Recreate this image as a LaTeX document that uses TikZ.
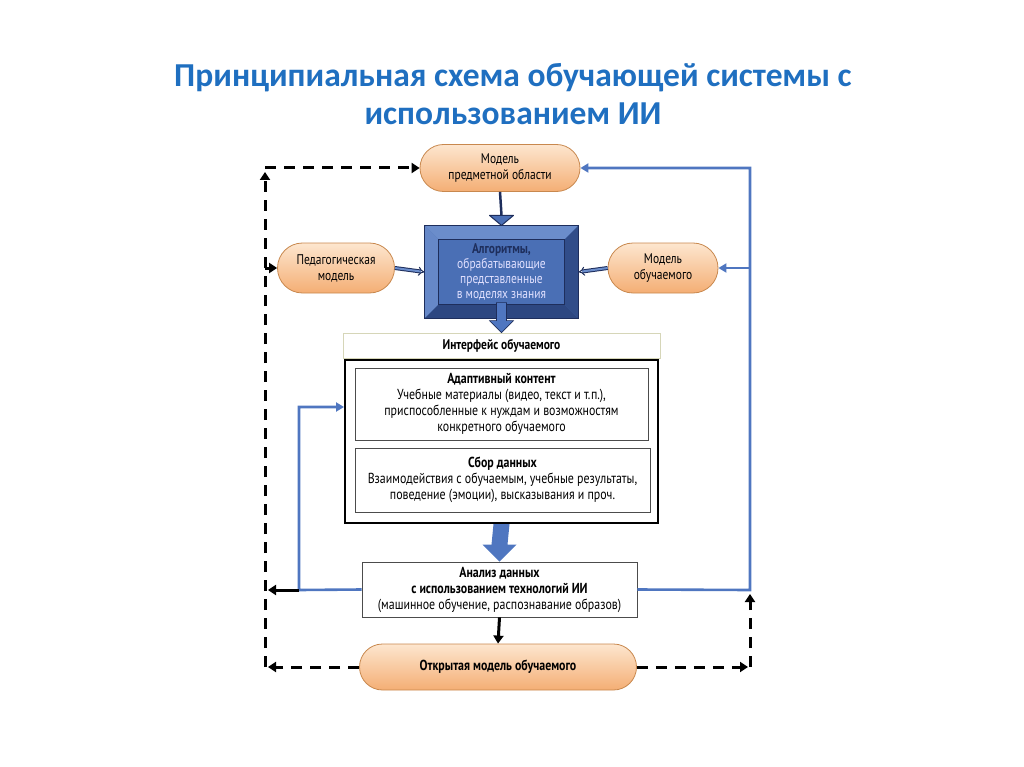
\documentclass[tikz,border=0pt]{standalone}
\usepackage{fontspec}
\setmainfont{PT Sans}
\newfontfamily\cf[FakeStretch=0.82]{PT Sans}
\newfontfamily\tf{Carlito}
\usetikzlibrary{arrows.meta,calc,shapes.misc}
\definecolor{ttl}{HTML}{1F6FC0}
\definecolor{blu}{HTML}{4F76C0}
\definecolor{navy}{HTML}{1E2E5C}
\definecolor{pl}{HTML}{FDE6CF}
\definecolor{pd}{HTML}{F4AE74}
\definecolor{pb}{HTML}{C8884E}
\definecolor{bmid}{HTML}{4A6FB5}
\definecolor{blite}{HTML}{6B8DCB}
\definecolor{bdark}{HTML}{2D4781}
\definecolor{hdr}{HTML}{D6D6B8}
\begin{document}
\begin{tikzpicture}[x=1pt,y=-1pt,
  pill/.style={rounded rectangle, draw=pb, line width=0.8pt, top color=pl, bottom color=pd, align=center, font=\cf\fontsize{14}{16}\selectfont, inner sep=0pt},
  boxA/.style={draw=black!70, line width=0.8pt, fill=white, align=center, font=\cf\fontsize{14.5}{16}\selectfont, inner sep=0pt},
  bline/.style={blu, line width=2.6pt},
  dline/.style={black, line width=3pt, dash pattern=on 11pt off 8pt},
]
\useasboundingbox (0,0) rectangle (1024,767);
% title
\node[font=\tf\bfseries\fontsize{33.5}{38}\selectfont, text=ttl, align=center] (title) at (513,94)
 {Принципиальная схема обучающей системы с\\использованием ИИ};

% nodes
\node[pill, minimum width=160pt, minimum height=47pt] (domain) at (500,168) {Модель\\предметной области};
\node[pill, minimum width=117pt, minimum height=50pt] (ped) at (336,268) {Педагогическая\\модель};
\node[pill, minimum width=110pt, minimum height=50pt] (learner) at (663,268) {Модель\\обучаемого};
\node[pill, minimum width=277pt, minimum height=46pt, font=\cf\bfseries\fontsize{14.5}{16}\selectfont] (open) at (498,667) {Открытая модель обучаемого};

% algorithm box
\node[draw=navy, line width=1.2pt, fill=bmid, minimum width=153pt, minimum height=92pt, inner sep=0pt] (alg) at (501.5,272) {};
\fill[blite] (alg.north west) -- (alg.north east) -- ($(alg.north east)+(-14,14)$) -- ($(alg.north west)+(14,14)$) -- cycle;
\fill[blite!85!bmid] (alg.north west) -- ($(alg.north west)+(14,14)$) -- ($(alg.south west)+(14,-14)$) -- (alg.south west) -- cycle;
\fill[bdark] (alg.south west) -- ($(alg.south west)+(14,-14)$) -- ($(alg.south east)+(-14,-14)$) -- (alg.south east) -- cycle;
\fill[bdark!85!bmid] (alg.north east) -- ($(alg.north east)+(-14,14)$) -- ($(alg.south east)+(-14,-14)$) -- (alg.south east) -- cycle;
\draw[navy, line width=1.2pt] (alg.north west) rectangle (alg.south east);
\draw[navy, line width=1pt, fill=bmid] ($(alg.north west)+(14,14)$) rectangle ($(alg.south east)+(-14,-14)$);
\node[align=center, font=\cf\fontsize{14}{15}\selectfont, text=white!88!blue] (algt) at (alg.center)
 {\textcolor{navy}{\bfseries Алгоритмы,}\\обрабатывающие\\представленные\\в моделях знания};

% interface
\node[draw=hdr, line width=0.8pt, minimum width=317pt, minimum height=25pt, inner sep=0pt, font=\cf\bfseries\fontsize{14}{16}\selectfont] (iface) at (501.5,345.5) {Интерфейс обучаемого};
\node[draw=black, line width=2pt, minimum width=313pt, minimum height=163pt, inner sep=0pt] (main) at (501.5,441.5) {};
\node[boxA, minimum width=293pt, minimum height=72pt] (content) at (501.5,404)
 {{\bfseries Адаптивный контент}\\Учебные материалы (видео, текст и т.п.),\\приспособленные к нуждам и возможностям\\конкретного обучаемого};
\node[boxA, minimum width=295pt, minimum height=64pt] (collect) at (502.5,480)
 {{\bfseries Сбор данных}\\Взаимодействия с обучаемым, учебные результаты,\\поведение (эмоции), высказывания и проч.};
\node[boxA, minimum width=275pt, minimum height=55pt] (analysis) at (499.5,589.5)
 {{\bfseries Анализ данных}\\{\bfseries с использованием технологий ИИ}\\(машинное обучение, распознавание образов)};

% domain -> alg
\draw[navy, line width=2.5pt] (domain.south) -- ($(alg.north)+(0,-10)$);
\draw[navy, line width=1pt, fill=bmid, line join=round] ($(alg.north)+(-12,-10)$) -- ($(alg.north)+(12,-10)$) -- (alg.north) -- cycle;
% ped -> alg, learner -> alg
\draw[navy, double=blite, double distance=2pt, line width=1pt, -{Implies}] (ped.east) -- (alg.west);
\draw[navy, double=blite, double distance=2pt, line width=1pt, -{Implies}] (learner.west) -- (alg.east);

% block arrow alg -> iface
\fill[blu, draw=navy, line width=0.6pt] ($(alg.south)+(-5,-16)$) -- ($(alg.south)+(5,-16)$) -- ($(iface.north)+(5,-12)$) -- ($(iface.north)+(12,-12)$) -- (iface.north) -- ($(iface.north)+(-12,-12)$) -- ($(iface.north)+(-5,-12)$) -- cycle;
% block arrow main -> analysis
\fill[blu] ($(main.south)+(-8,0)$) -- ($(main.south)+(8,0)$) -- ($(analysis.north)+(8,-17)$) -- ($(analysis.north)+(17,-17)$) -- ($(analysis.north)+(0,0)$) -- ($(analysis.north)+(-17,-17)$) -- ($(analysis.north)+(-8,-17)$) -- cycle;

% analysis -> open
\draw[black, line width=3pt, -{Triangle[length=8pt,width=10pt]}] (analysis.south) -- (open.north);

% blue feedback lines
\coordinate (bl1) at (299,590);
\coordinate (bl2) at (299,407);
\coordinate (br1) at (750,590);
\coordinate (br2) at (750,268);
\coordinate (br3) at (750,168);
\draw[bline, -{Triangle[length=8pt,width=9pt]}] (analysis.west) -- (bl1) -- (bl2) -- (bl2 -| main.west);
\draw[bline, -{Triangle[length=8pt,width=9pt]}] (analysis.east) -- (br1) -- (br3) -- (domain.east);
\draw[bline, -{Triangle[length=8pt,width=9pt]}] (br2) -- (learner.east);

% black short arrow left
\coordinate (dl1) at (265,590);
\draw[black, line width=3pt, -{Triangle[length=8pt,width=10pt]}] (bl1) -- ($(dl1)+(3,0)$);

% dashed lines
\coordinate (dlb) at (265,667);
\coordinate (dlt) at (265,168);
\coordinate (dlm) at (265,268);
\coordinate (drb) at (750,667);
\draw[dline, -{Triangle[length=8pt,width=10pt]}] (open.west) -- ($(dlb)+(3,0)$);
\draw[dline, -{Triangle[length=8pt,width=10pt]}] (dlb) -- ($(dlt)+(0,4)$);
\draw[dline, -{Triangle[length=8pt,width=10pt]}] (dlt) -- (domain.west);
\draw[black, line width=3pt, -{Triangle[length=8pt,width=10pt]}] (dlm) -- (ped.west);
\draw[dline, -{Triangle[length=8pt,width=10pt]}] (open.east) -- ($(drb)+(-2,0)$);
\draw[dline, -{Triangle[length=8pt,width=10pt]}] (drb) -- ($(br1)+(0,4)$);
\end{tikzpicture}
\end{document}
